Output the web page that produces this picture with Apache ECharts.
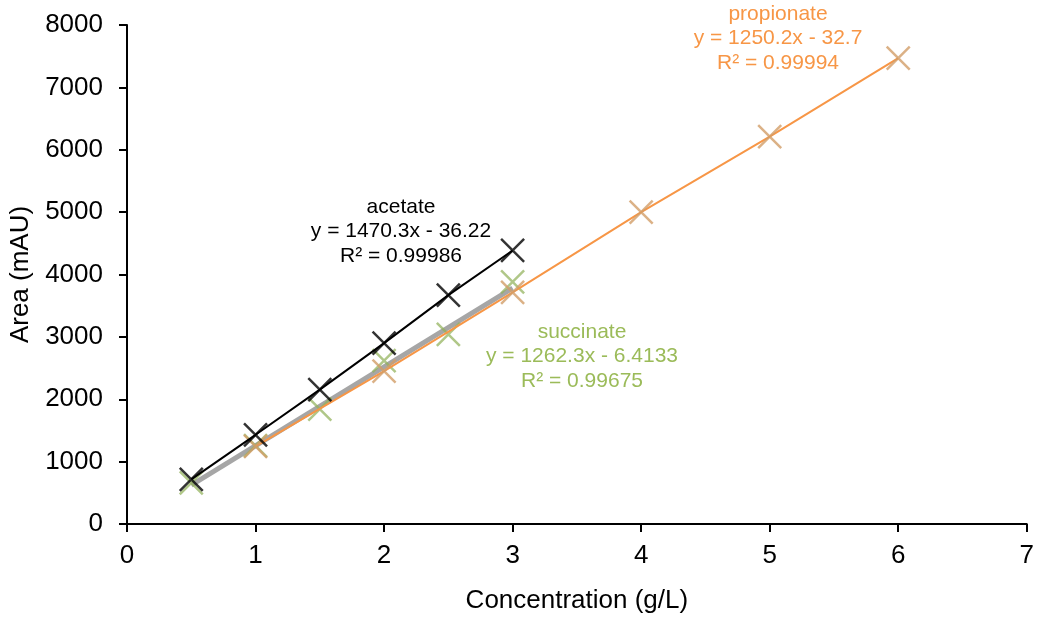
<!DOCTYPE html>
<html>
<head>
<meta charset="utf-8">
<script src="https://cdn.jsdelivr.net/npm/echarts@6/dist/echarts.min.js"></script>
<style>
  html, body { margin: 0; padding: 0; background: #fff; }
  #chart { width: 1037px; height: 619px; }
</style>
</head>
<body>
<div id="chart"></div>
<script>
// Calibration standards: peak area vs concentration
const acetateConc = [0.5, 1, 1.5, 2, 2.5, 3];
const acetateArea = [715, 1430, 2155, 2900, 3670, 4385];

const succinateConc = [0.5, 1, 1.5, 2, 2.5, 3];
const succinateArea = [660, 1255, 1840, 2620, 3040, 3880];

const propionateConc = [1, 2, 3, 4, 5, 6];
const propionateArea = [1245, 2450, 3715, 5000, 6210, 7470];

// Linear fit of succinate: [slope, intercept], plotted over the standard range
const succinateFit = [1262.3, -6.4133];
const succinateFitRange = [0.5, 3];

const xTicks = [0, 7, 1];      // min, max, interval
const yTicks = [0, 8000, 1000];

const FONT = '"Liberation Sans", Arial, sans-serif';
const CROSS = 'path://M0,0L10,10M10,0L0,10';

function pairs(xs, ys) { return xs.map((x, i) => [x, ys[i]]); }

const fitLine = succinateFitRange.map(x => [x, succinateFit[0] * x + succinateFit[1]]);

function markers(name, xs, ys, stroke, z) {
  return {
    name: name, type: 'scatter', data: pairs(xs, ys),
    symbol: CROSS, symbolSize: 23, z: z,
    itemStyle: { color: 'rgba(0,0,0,0)', borderColor: stroke, borderWidth: 2.5 },
    emphasis: { disabled: true }, silent: true
  };
}
function line(name, data, color, width, z) {
  return {
    name: name, type: 'line', data: data, showSymbol: false, symbol: 'none', z: z,
    lineStyle: { color: color, width: width }, emphasis: { disabled: true }, silent: true
  };
}

function annotation(lines, cx, cy, color) {
  return lines.map((t, i) => ({
    type: 'text', x: cx, y: cy + i * 24.5,
    style: { text: t, fill: color, font: '21px ' + FONT, align: 'center', verticalAlign: 'middle' }
  }));
}

const chart = echarts.init(document.getElementById('chart'), null, { renderer: 'canvas' });
chart.setOption({
  animation: false,
  backgroundColor: '#fff',
  grid: { left: 127, right: 10, top: 25, bottom: 92, containLabel: false },
  xAxis: {
    type: 'value', min: xTicks[0], max: xTicks[1], interval: xTicks[2],
    name: 'Concentration (g/L)', nameLocation: 'middle', nameGap: 64,
    nameTextStyle: { color: '#000', fontSize: 26, fontFamily: FONT },
    axisLine: { lineStyle: { color: '#000', width: 2 } },
    axisTick: { show: true, inside: false, length: 8, lineStyle: { color: '#000', width: 2 } },
    axisLabel: { color: '#000', fontSize: 26, fontFamily: FONT, margin: 19 },
    splitLine: { show: false }
  },
  yAxis: {
    type: 'value', min: yTicks[0], max: yTicks[1], interval: yTicks[2],
    name: 'Area (mAU)', nameLocation: 'middle', nameGap: 92, nameRotate: 90,
    nameTextStyle: { color: '#000', fontSize: 26, fontFamily: FONT },
    axisLine: { show: true, lineStyle: { color: '#000', width: 2 } },
    axisTick: { show: true, inside: false, length: 8, lineStyle: { color: '#000', width: 2 } },
    axisLabel: { color: '#000', fontSize: 26, fontFamily: FONT, margin: 24,
                 formatter: v => String(v) },
    splitLine: { show: false }
  },
  series: [
    line('succinate fit', fitLine, '#A6A6A6', 5, 1),
    markers('succinate', succinateConc, succinateArea, 'rgba(145,178,90,0.9)', 2),
    line('propionate', pairs(propionateConc, propionateArea), '#F79646', 2, 3),
    markers('propionate pts', propionateConc, propionateArea, '#D29E68', 4),
    line('acetate', pairs(acetateConc, acetateArea), '#000000', 2, 5),
    markers('acetate pts', acetateConc, acetateArea, '#000000', 6)
  ],
  graphic: [].concat(
    annotation(['acetate', 'y = 1470.3x - 36.22', 'R² = 0.99986'], 401, 207, '#000000'),
    annotation(['propionate', 'y = 1250.2x - 32.7', 'R² = 0.99994'], 778, 14, '#F79646'),
    annotation(['succinate', 'y = 1262.3x - 6.4133', 'R² = 0.99675'], 582, 332, '#9BBB59')
  )
});
</script>
</body>
</html>
